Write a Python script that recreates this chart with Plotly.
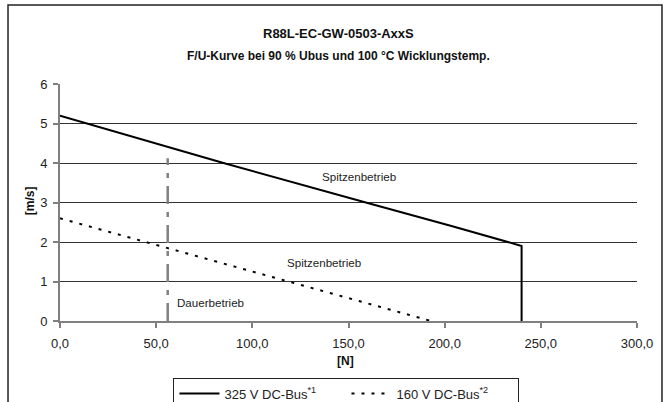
import plotly.graph_objects as go

# Data
x_325 = [0, 85, 159, 204, 240, 240]
y_325 = [5.2, 4.0, 3.0, 2.4, 1.9, 0.0]
x_160 = [0, 193]
y_160 = [2.6, 0.0]
x_dauer = [56, 56]
y_dauer = [0, 4.12]
x_ticks = [0, 50, 100, 150, 200, 250, 300]
y_ticks = [0, 1, 2, 3, 4, 5, 6]
labels = [("Spitzenbetrieb", 155.5, 3.65, "center"),
          ("Spitzenbetrieb", 137, 1.49, "center"),
          ("Dauerbetrieb", 60, 0.46, "left")]

FONT = "Liberation Sans, Arial, sans-serif"

fig = go.Figure()
fig.add_trace(go.Scatter(x=x_325, y=y_325, mode="lines", name="325 V DC-Bus<sup>*1</sup>",
                         line=dict(color="black", width=2)))
fig.add_trace(go.Scatter(x=x_160, y=y_160, mode="lines", name="160 V DC-Bus<sup>*2</sup>",
                         line=dict(color="black", width=2, dash="3px,7px")))
fig.add_trace(go.Scatter(x=x_dauer, y=y_dauer, mode="lines", showlegend=False,
                         line=dict(color="#808080", width=2.5, dash="18px,8px,5px,8px")))

for txt, xv, yv, anc in labels:
    fig.add_annotation(x=xv, y=yv, text=txt, showarrow=False, xanchor=anc, yanchor="middle",
                       font=dict(size=11.6, color="#222", family=FONT))

fig.add_annotation(xref="paper", yref="paper", x=0.4835, y=1.211, text="<b>R88L-EC-GW-0503-AxxS</b>",
                   showarrow=False, xanchor="center", yanchor="middle",
                   font=dict(size=13, color="#111", family=FONT))
fig.add_annotation(xref="paper", yref="paper", x=0.4835, y=1.118,
                   text="<b>F/U-Kurve bei 90 % Ubus und 100 °C Wicklungstemp.</b>",
                   showarrow=False, xanchor="center", yanchor="middle",
                   font=dict(size=12, color="#111", family=FONT))
fig.add_annotation(xref="paper", yref="paper", x=-0.052, y=0.51, text="<b>[m/s]</b>", textangle=-90,
                   showarrow=False, xanchor="center", yanchor="middle",
                   font=dict(size=12, color="#111", family=FONT))
fig.add_annotation(xref="paper", yref="paper", x=0.494, y=-0.17, text="<b>[N]</b>",
                   showarrow=False, xanchor="center", yanchor="middle",
                   font=dict(size=12, color="#111", family=FONT))

fig.add_shape(type="rect", xref="paper", yref="paper", x0=-0.0901, x1=1.0433, y0=-0.40, y1=1.333,
              line=dict(color="#222", width=1.5), layer="below")

fig.update_layout(
    width=670, height=402,
    margin=dict(l=60, r=33, t=84, b=81, autoexpand=False),
    paper_bgcolor="white", plot_bgcolor="white",
    separators=",.",
    font=dict(family=FONT, size=13, color="#222"),
    showlegend=True,
    legend=dict(orientation="h", x=0.4965, xanchor="center", y=-0.374, yanchor="bottom",
                bordercolor="#222", borderwidth=1, bgcolor="white",
                font=dict(size=13, color="#222", family=FONT),
                itemwidth=40, entrywidth=117, tracegroupgap=0),
    xaxis=dict(range=[0, 300], tickvals=x_ticks, tickformat=".1f", automargin=False,
               showgrid=False, zeroline=False, showline=True, linecolor="#808080", linewidth=2,
               ticks="outside", ticklen=5, tickcolor="#808080", tickwidth=1.5,
               ticklabelstandoff=4,
               tickfont=dict(size=13, color="#222")),
    yaxis=dict(range=[0, 6], tickvals=y_ticks, tickformat="d", automargin=False,
               showgrid=True, gridcolor="#333", gridwidth=1, zeroline=False,
               showline=True, linecolor="#808080", linewidth=2,
               ticks="outside", ticklen=5, tickcolor="#808080", tickwidth=1.5,
               ticklabelstandoff=3,
               tickfont=dict(size=13, color="#222")),
)

fig.write_html("out.html", config={"displayModeBar": False},
               post_script="document.body.style.margin='0';document.body.style.overflow='hidden';")
